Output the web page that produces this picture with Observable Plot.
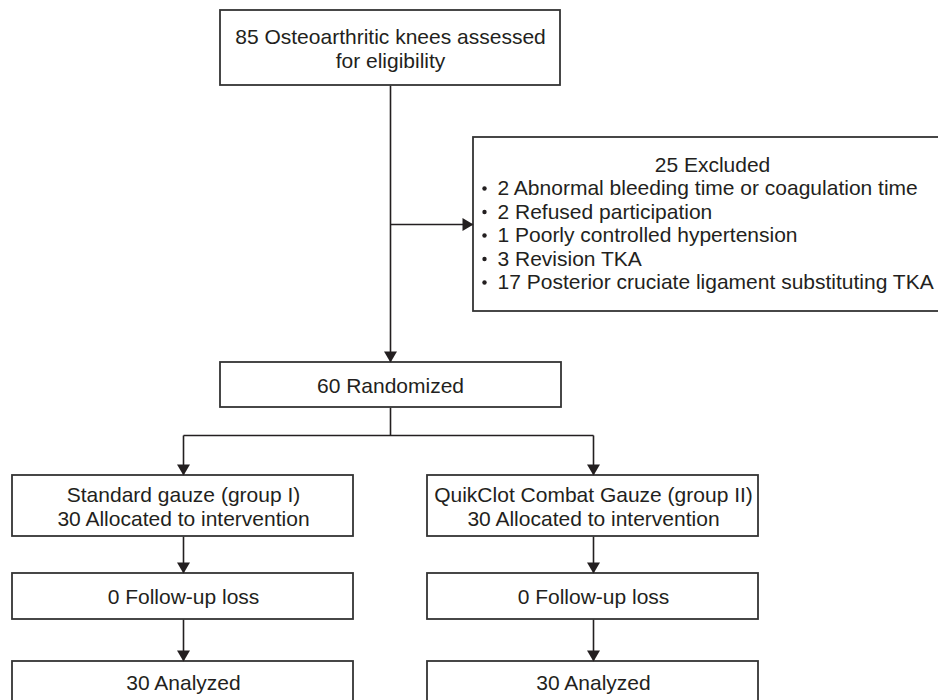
<!DOCTYPE html>
<html><head><meta charset="utf-8">
<script src="https://cdn.jsdelivr.net/npm/d3@7"></script>
<script src="https://cdn.jsdelivr.net/npm/@observablehq/plot@0.6"></script>
<style>html,body{margin:0;padding:0;background:#fff;overflow:hidden}</style>
</head><body><div id="chart"></div>
<script>
// ---- data ----
const assessedCount = 85;
const excludedCount = 25;
const randomizedCount = 60;
const exclusionReasons = [
  "Abnormal bleeding time or coagulation time",
  "Refused participation",
  "Poorly controlled hypertension",
  "Revision TKA",
  "Posterior cruciate ligament substituting TKA"
];
const exclusionCounts = [2, 2, 1, 3, 17];
const groupNames = ["Standard gauze (group I)", "QuikClot Combat Gauze (group II)"];
const allocatedCounts = [30, 30];
const followUpLoss = [0, 0];
const analyzedCounts = [30, 30];

// ---- layout (diagram coordinate space) ----
const W = 938, H = 700;
const mainX = 390, sideX1 = 473, sideX2 = 951;
const groupX = [183, 593];
const groupEdges = [[12, 353], [427, 758]];
const rowTop = {assessed: [10, 85], excluded: [137, 311], randomized: [362, 407],
  allocated: [475, 536], followup: [573, 619], analyzed: [661, 704]};
const branchY = 435, sideArrowY = 224;
const exclLine0 = 164.5, exclStep = 23.5, bulletX = 484, itemX = 497;

// boxes
const boxes = [
  {x1: 220, x2: 560, y: rowTop.assessed, label: `${assessedCount} Osteoarthritic knees assessed\nfor eligibility`, cx: mainX},
  {x1: sideX1, x2: sideX2, y: rowTop.excluded, label: null},
  {x1: 220, x2: 561, y: rowTop.randomized, label: `${randomizedCount} Randomized`, cx: mainX}
];
groupNames.forEach((g, i) => {
  const cx = groupX[i], [e1, e2] = groupEdges[i];
  boxes.push({x1: e1, x2: e2, y: rowTop.allocated, label: `${g}\n${allocatedCounts[i]} Allocated to intervention`, cx});
  boxes.push({x1: e1, x2: e2, y: rowTop.followup, label: `${followUpLoss[i]} Follow-up loss`, cx});
  boxes.push({x1: e1, x2: e2, y: rowTop.analyzed, label: `${analyzedCounts[i]} Analyzed`, cx, ty: 682});
});
const labels = boxes.filter(b => b.label).map(b => ({x: b.cx, y: b.ty ?? (b.y[0] + b.y[1]) / 2, text: b.label}));

// connectors
const links = [
  {x1: mainX, y1: rowTop.assessed[1], x2: mainX, y2: rowTop.randomized[0]},
  {x1: mainX, y1: sideArrowY, x2: sideX1, y2: sideArrowY},
  {x1: mainX, y1: rowTop.randomized[1], x2: mainX, y2: branchY},
  {x1: groupX[0], y1: branchY, x2: groupX[1], y2: branchY}
];
const heads = [
  {x: mainX, y: rowTop.randomized[0], rot: 0},
  {x: sideX1, y: sideArrowY, rot: -90}
];
groupX.forEach(gx => {
  links.push({x1: gx, y1: branchY, x2: gx, y2: rowTop.allocated[0]});
  links.push({x1: gx, y1: rowTop.allocated[1], x2: gx, y2: rowTop.followup[0]});
  links.push({x1: gx, y1: rowTop.followup[1], x2: gx, y2: rowTop.analyzed[0]});
  heads.push({x: gx, y: rowTop.allocated[0], rot: 0});
  heads.push({x: gx, y: rowTop.followup[0], rot: 0});
  heads.push({x: gx, y: rowTop.analyzed[0], rot: 0});
});

// excluded box text
const exclTitle = [{x: 712, y: exclLine0, text: `${excludedCount} Excluded`}];
const exclItems = exclusionReasons.map((r, i) => ({y: exclLine0 + exclStep * (i + 1), text: `${exclusionCounts[i]} ${r}`}));

const arrowHead = {draw(ctx) { ctx.moveTo(0, 0); ctx.lineTo(-6.5, -11); ctx.lineTo(6.5, -11); ctx.closePath(); }};
const ink = "#231f20";
const font = "'Liberation Sans', Arial, Helvetica, sans-serif";

const chart = Plot.plot({
  width: W, height: H,
  margin: 0,
  x: {domain: [0, W], range: [0, W], axis: null},
  y: {domain: [0, H], range: [0, H], axis: null},
  style: {fontFamily: font, background: "#fff"},
  marks: [
    Plot.link(links, {x1: "x1", y1: "y1", x2: "x2", y2: "y2", stroke: ink, strokeWidth: 1.6}),
    Plot.rect(boxes, {x1: "x1", x2: "x2", y1: d => d.y[0], y2: d => d.y[1], fill: "#fff", stroke: "#333", strokeWidth: 1.8, clip: true}),
    Plot.dot(heads, {x: "x", y: "y", r: 5, symbol: arrowHead, fill: ink, stroke: "none", rotate: "rot"}),
    Plot.text(labels, {x: "x", y: "y", text: "text", fontSize: 21, lineHeight: 1.14, fill: ink, clip: true}),
    Plot.text(exclTitle, {x: "x", y: "y", text: "text", fontSize: 21, fill: ink}),
    Plot.dot(exclItems, {x: bulletX, y: "y", r: 2.2, fill: ink, stroke: "none"}),
    Plot.text(exclItems, {x: itemX, y: "y", text: "text", textAnchor: "start", fontSize: 21, fill: ink, clip: true})
  ]
});
document.getElementById("chart").appendChild(chart);
</script>
</body></html>
